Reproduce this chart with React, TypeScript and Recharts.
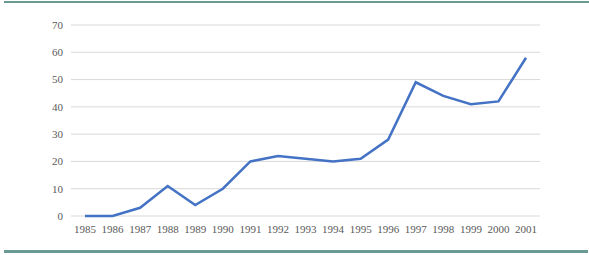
import React from "react";
import { LineChart, Line, XAxis, YAxis, CartesianGrid } from "recharts";

const years = ["1985","1986","1987","1988","1989","1990","1991","1992","1993","1994","1995","1996","1997","1998","1999","2000","2001"];
const values = [0, 0, 3, 11, 4, 10, 20, 22, 21, 20, 21, 28, 49, 44, 41, 42, 58];
const yTicks = [0, 10, 20, 30, 40, 50, 60, 70];

const data = years.map((y, i) => ({ year: y, value: values[i] }));

const tickStyle = { fontFamily: "'Liberation Serif', serif", fontSize: 11, fill: "#595959" };

export default function App() {
  return (
    <div style={{ position: "absolute", left: 0, top: 0, width: 589, height: 255, background: "#fff" }}>
      <div style={{ position: "absolute", left: 4, top: 1, width: 585, height: 2, background: "#6a9a94" }} />
      <div style={{ position: "absolute", left: 4, top: 250, width: 584, height: 3, background: "#6a9a94" }} />
      <LineChart width={589} height={255} data={data} margin={{ top: 25, right: 49, bottom: 0, left: 0 }}>
        <CartesianGrid vertical={false} stroke="#d9d9d9" strokeWidth={1} />
        <XAxis dataKey="year" axisLine={false} tickLine={false} tick={tickStyle} height={39} tickMargin={3} interval={0} padding={{ left: 14, right: 14 }} />
        <YAxis domain={[0, 70]} ticks={yTicks} axisLine={false} tickLine={false} tick={tickStyle} width={71} />
        <Line type="linear" dataKey="value" stroke="#4472c4" strokeWidth={2.5} dot={false} isAnimationActive={false} />
      </LineChart>
    </div>
  );
}
